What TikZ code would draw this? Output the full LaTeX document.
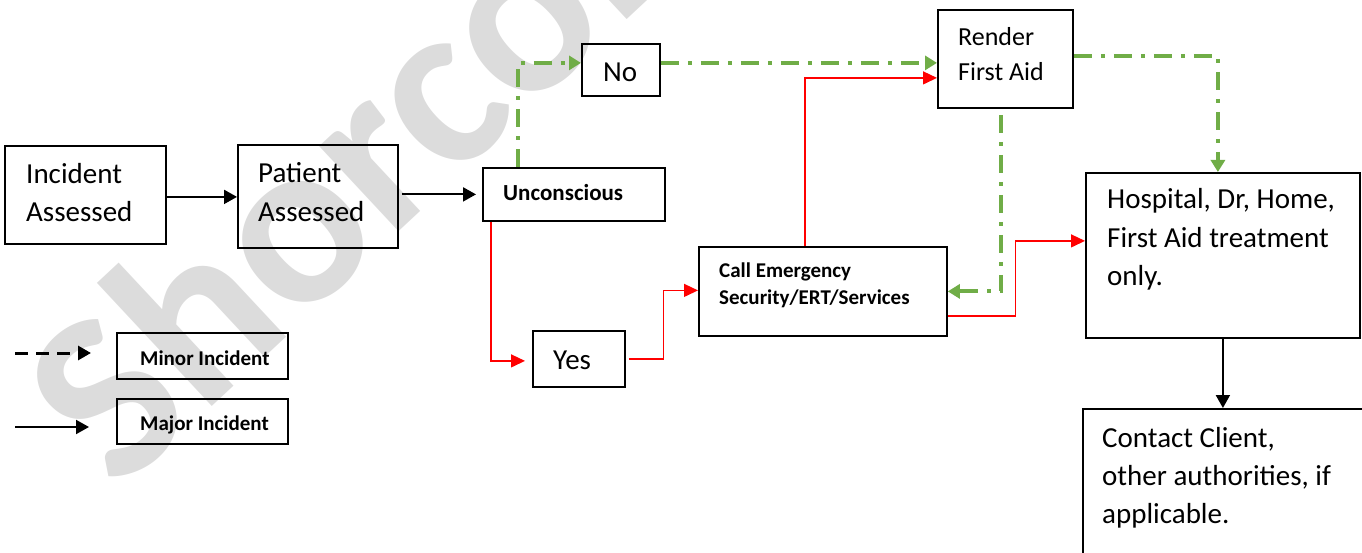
\documentclass[tikz,border=0pt]{standalone}
\usepackage{fontspec}
\setmainfont{Carlito}
\usetikzlibrary{arrows.meta}
\definecolor{grn}{HTML}{70AD47}
\definecolor{rd}{HTML}{FF0000}
\definecolor{wm}{HTML}{DCDCDC}
\begin{document}
\begin{tikzpicture}[x=1pt,y=-1pt,
  box/.style={draw=black, line width=1.8pt, inner sep=0pt, anchor=north west, rectangle},
  txt/.style={inner sep=0pt, anchor=base west, font=\fontsize{29}{35}\selectfont},
  txtr/.style={inner sep=0pt, anchor=base west, font=\fontsize{26}{32}\selectfont},
  txtb/.style={inner sep=0pt, anchor=base west, font=\fontsize{21}{26}\selectfont\bfseries},
  blk/.style={draw=black, line width=2pt, -{Triangle[length=13pt,width=14pt]}},
  blkd/.style={draw=black, line width=3pt, dash pattern=on 13pt off 8pt, -{Triangle[length=13pt,width=14pt]}},
  redl/.style={draw=rd, line width=1.3pt, -{Triangle[length=14pt,width=13pt]}},
  grnl/.style={draw=grn, line width=4pt, dash pattern=on 18pt off 9pt on 4pt off 9pt, -{Triangle[length=12pt,width=14pt]}},
]
\clip (0,0) rectangle (1362,553);
% watermark
\node[inner sep=0pt, anchor=base west, rotate=43, text=wm, font=\fontsize{240}{240}\selectfont\bfseries] (wmark) at (118,494) {Shorcon};

% boxes
\node[box, minimum width=161pt, minimum height=98pt] (inc) at (4,145) {};
\node[box, minimum width=160pt, minimum height=103pt] (pat) at (237,144) {};
\node[box, minimum width=182pt, minimum height=53pt] (unc) at (482,167) {};
\node[box, minimum width=78pt, minimum height=52pt] (no) at (581,43) {};
\node[box, minimum width=135pt, minimum height=98pt] (ren) at (937,9) {};
\node[box, minimum width=248pt, minimum height=89pt] (call) at (698,246) {};
\node[box, minimum width=92pt, minimum height=56pt] (yes) at (532,330) {};
\node[box, minimum width=274pt, minimum height=165pt] (hosp) at (1085,172) {};
\node[box, minimum width=330pt, minimum height=200pt] (cont) at (1082,408) {};
\node[box, minimum width=171pt, minimum height=46pt] (minor) at (116,332) {};
\node[box, minimum width=171pt, minimum height=45pt] (major) at (116,398) {};

% texts
\node[txt] (inc1) at (26,184) {Incident};
\node[txt] (inc2) at (26,222) {Assessed};
\node[txt] (pat1) at (258,183) {Patient};
\node[txt] (pat2) at (258,222) {Assessed};
\node[txtb, font=\fontsize{23}{28}\selectfont\bfseries] (unc1) at (503,201) {Unconscious};
\node[txt] (no1) at (603,82) {No};
\node[txtr] (ren1) at (958,46) {Render};
\node[txtr] (ren2) at (958,81) {First Aid};
\node[txtb] (call1) at (719,277) {Call Emergency};
\node[txtb] (call2) at (719,304) {Security/ERT/Services};
\node[txt] (yes1) at (553,369) {Yes};
\node[txt] (hosp1) at (1107,209) {Hospital, Dr, Home,};
\node[txt] (hosp2) at (1107,248) {First Aid treatment};
\node[txt] (hosp3) at (1107,286) {only.};
\node[txt] (cont1) at (1102,447) {Contact Client,};
\node[txt] (cont2) at (1102,485) {other authorities, if};
\node[txt] (cont3) at (1102,523) {applicable.};
\node[txtb] (minor1) at (140,365) {Minor Incident};
\node[txtb] (major1) at (140,430) {Major Incident};

% legend arrows
\coordinate (l1a) at (15,353);
\coordinate (l1b) at (91,353);
\coordinate (l2a) at (15,427);
\coordinate (l2b) at (89,427);
\draw[blkd] (l1a) -- (l1b);
\draw[blk] (l2a) -- (l2b);

% black connectors
\draw[blk] ([yshift=-2pt]inc.east) -- ([yshift=-2pt]inc.east -| pat.west);
\coordinate (pe) at ([xshift=3pt,yshift=2pt]pat.east);
\draw[blk] (pe) -- ([xshift=-6pt]pe -| unc.west);
\draw[blk] (hosp.south) -- (hosp.south |- cont.north);

% green connectors
\draw[grnl] ([xshift=36pt]unc.north west) |- ([yshift=7pt]no.west);
\draw[grnl] ([yshift=7pt]no.east) -- ([yshift=7pt]no.east -| ren.west);
\draw[grnl] ([yshift=3pt]ren.east) -| ([xshift=-5pt]hosp.north);
\draw[grnl] ([shift={(-4.5pt,-6pt)}]ren.south) |- (call.east);

% red connectors
\draw[redl] ([xshift=9pt]unc.south west) |- ([xshift=-7pt,yshift=-2pt]yes.west);
\draw[redl] ([xshift=3pt]yes.east) -- ++(35,0) |- ([yshift=1pt]call.west);
\draw[redl] ([xshift=-18pt]call.north) |- ([yshift=-19pt]ren.west);
\draw[redl] ([yshift=-24.5pt]call.east) -- ++(68,0) |- ([yshift=14.5pt]hosp.west);
\end{tikzpicture}
\end{document}
